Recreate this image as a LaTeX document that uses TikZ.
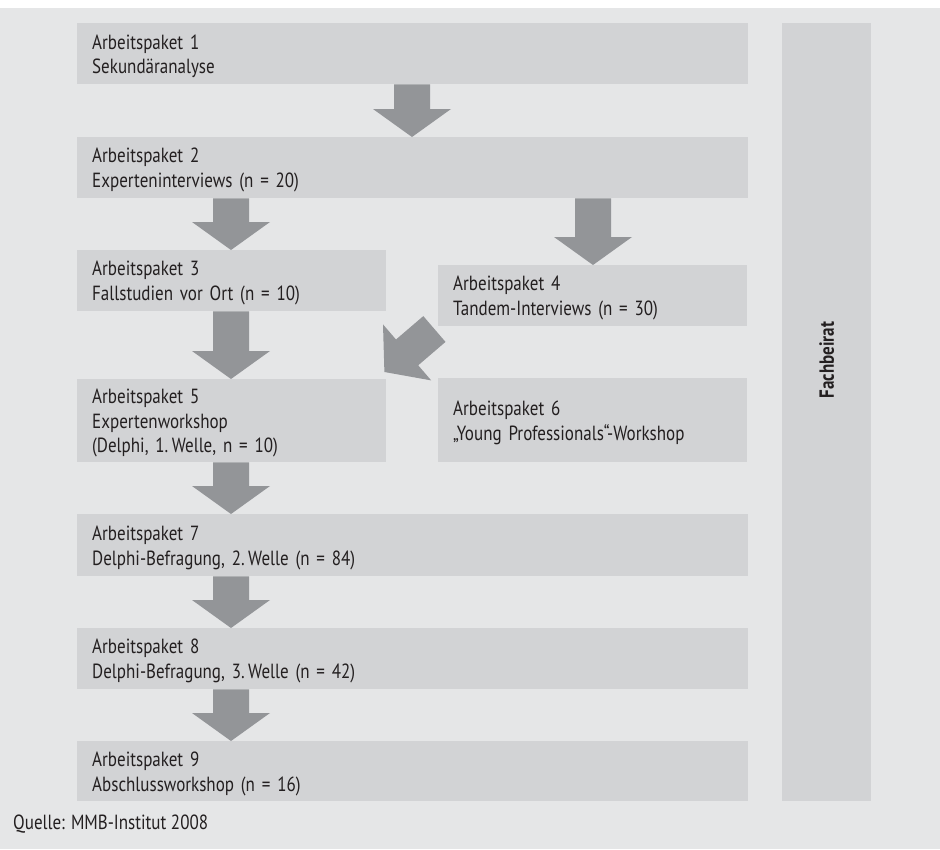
\documentclass[tikz,border=0pt]{standalone}
\usepackage{fontspec}
\setmainfont[FakeStretch=0.83]{PT Sans}
\usetikzlibrary{calc}
\definecolor{bggray}{HTML}{E5E6E7}
\definecolor{boxgray}{HTML}{D2D3D5}
\definecolor{arrowgray}{HTML}{939598}
\definecolor{textdark}{HTML}{231F20}
\newcommand\ls{\rule[-3.5pt]{0pt}{23pt}}
\newcommand\varrow[3]{%
  \coordinate (vx) at (#1,0);
  \fill[arrowfill] (#2.south -| vx) ++(-18,0) -- ++(36,0)
    -- ($(#3.north -| vx)+(18,-28)$) -- ++(21,0) -- (#3.north -| vx)
    -- ++(-39,-28) -- ++(21,0) -- cycle;}
\tikzset{
  basefont/.style={font=\fontsize{20.5}{23}\selectfont, text=textdark},
  pkbox/.style={basefont, fill=boxgray, anchor=north west, inner xsep=15pt, inner ysep=0pt, align=left},
  widebox/.style={pkbox, text width=641pt},
  halfbox/.style={pkbox, text width=279pt},
  arrowfill/.style={fill=arrowgray},
}
\begin{document}
\begin{tikzpicture}[x=1pt,y=-1pt]
\useasboundingbox (0,0) rectangle (940,849);
\fill[bggray] (0,8) rectangle (940,849);
% work packages
\node[widebox, minimum height=61pt] (b1) at (77,23) {Arbeitspaket 1\ls\\Sekundäranalyse\ls};
\node[widebox, minimum height=61pt] (b2) at (77,137) {Arbeitspaket 2\ls\\Experteninterviews (n = 20)\ls};
\node[halfbox, minimum height=61pt] (b3) at (77,250) {Arbeitspaket 3\ls\\Fallstudien vor Ort (n = 10)\ls};
\node[halfbox, minimum height=61pt] (b4) at (438,265) {Arbeitspaket 4\ls\\Tandem-Interviews (n = 30)\ls};
\node[halfbox, minimum height=83pt] (b5) at (77,379) {Arbeitspaket 5\ls\\Expertenworkshop\ls\\(Delphi, 1.\,Welle, n = 10)\ls};
\node[halfbox, minimum height=84pt] (b6) at (438,378) {Arbeitspaket 6\ls\\„Young Professionals“-Workshop\ls};
\node[widebox, minimum height=62pt] (b7) at (77,514) {Arbeitspaket 7\ls\\Delphi-Befragung, 2.\,Welle (n = 84)\ls};
\node[widebox, minimum height=61pt] (b8) at (77,628) {Arbeitspaket 8\ls\\Delphi-Befragung, 3.\,Welle (n = 42)\ls};
\node[widebox, minimum height=60pt] (b9) at (77,741) {Arbeitspaket 9\ls\\Abschlussworkshop (n = 16)\ls};
% advisory board
\node[fill=boxgray, anchor=north west, minimum width=89pt, minimum height=778pt, inner sep=0pt] (fb) at (782,23) {};
\node[basefont, font=\fontsize{20.5}{23}\selectfont\bfseries, rotate=90] (fbt) at ($(fb.center)+(0,-52)$) {Fachbeirat};
% source
\node[basefont, anchor=base west, inner sep=0pt] (src) at (13,829) {Quelle: MMB-Institut 2008};
% arrows
\varrow{412}{b1}{b2}
\varrow{231}{b2}{b3}
\varrow{593}{b2}{b4}
\varrow{231}{b3}{b5}
\varrow{231}{b5}{b7}
\varrow{231}{b7}{b8}
\varrow{231}{b8}{b9}
% diagonal arrow from b4 to b5
\coordinate (tip) at ($(b5.north east)+(-2,-7)$);
\begin{scope}[shift={(tip)}]
  \fill[arrowfill] (0,0) -- (-1.4,-47.6) -- (11.6,-32.5) -- (38.9,-55.9)
    -- (61.1,-30.1) -- (33.8,-6.7) -- (46.8,8.4) -- cycle;
\end{scope}
\end{tikzpicture}
\end{document}
